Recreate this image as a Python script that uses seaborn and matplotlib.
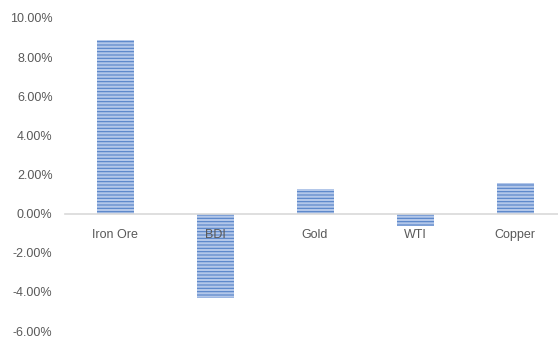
import matplotlib
matplotlib.use("Agg")
import matplotlib.pyplot as plt
import seaborn as sns
import pandas as pd
from matplotlib.ticker import FuncFormatter

categories = ["Iron Ore", "BDI", "Gold", "WTI", "Copper"]
values = [8.85, -4.33, 1.27, -0.64, 1.56]
yticks = [-6, -4, -2, 0, 2, 4, 6, 8, 10]

df = pd.DataFrame({"cat": categories, "val": values})

sns.set_style("white")
plt.rcParams["font.family"] = ["Liberation Sans", "DejaVu Sans"]
plt.rcParams["hatch.linewidth"] = 0.8

fig = plt.figure(figsize=(5.58, 3.38), dpi=100)
ax = fig.add_axes([65 / 558, 7 / 338, 1 - 65 / 558, 313 / 338])

sns.barplot(data=df, x="cat", y="val", ax=ax, width=0.37,
            color="#B3C7E9", saturation=1)
for p in ax.patches:
    p.set_hatch("-----")
    p.set_edgecolor("#5482C8")
    p.set_linewidth(0)
    p.set_zorder(0.5)

ax.set_ylim(-6, 10)
ax.set_xlim(-0.5, -0.5 + 493 / 100)
ax.set_yticks(yticks)
ax.yaxis.set_major_formatter(FuncFormatter(lambda v, _: f"{v:.2f}%"))
ax.set_xlabel("")
ax.set_ylabel("")

for s in ["top", "right", "left"]:
    ax.spines[s].set_visible(False)
ax.spines["bottom"].set_position(("data", 0))
ax.spines["bottom"].set_color("#D9D9D9")
ax.spines["bottom"].set_linewidth(1.2)
ax.spines["bottom"].set_zorder(5)

ax.tick_params(axis="both", length=0, labelsize=9, labelcolor="#595959")
ax.tick_params(axis="y", pad=9)
ax.tick_params(axis="x", pad=11)
ax.xaxis.set_zorder(6)

fig.savefig("out.png", dpi=100)
